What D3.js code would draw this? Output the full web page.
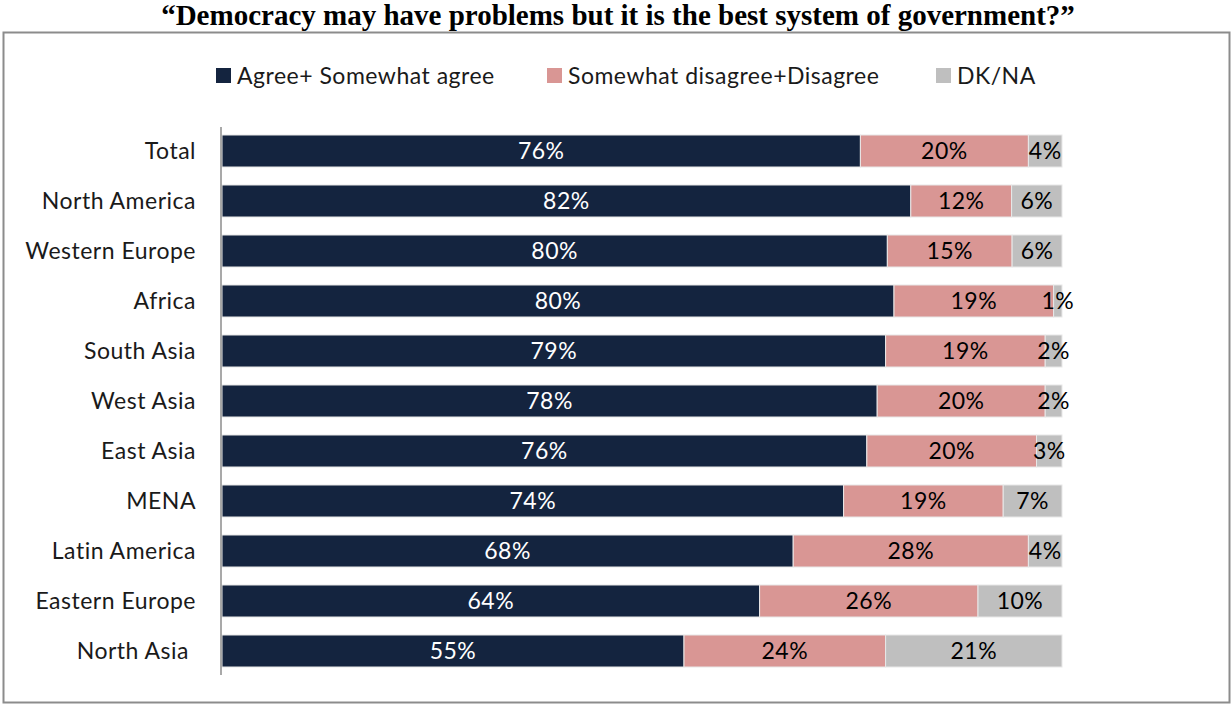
<!DOCTYPE html>
<html>
<head>
<meta charset="utf-8">
<script src="https://cdn.jsdelivr.net/npm/d3@7"></script>
<style>
  body { margin: 0; background: #fff; }
  svg { display: block; }
</style>
</head>
<body>
<div id="chart"></div>
<script>
// data
var regions = ["Total", "North America", "Western Europe", "Africa", "South Asia", "West Asia",
  "East Asia", "MENA", "Latin America", "Eastern Europe", "North Asia"];
var agree = [76, 82, 80, 80, 79, 78, 76, 74, 68, 64, 55];
var disagree = [20, 12, 15, 19, 19, 20, 20, 19, 28, 26, 24];
var dkna = [4, 6, 6, 1, 2, 2, 3, 7, 4, 10, 21];
var seriesNames = ["Agree+ Somewhat agree", "Somewhat disagree+Disagree", "DK/NA"];
var colors = ["#14243f", "#d99694", "#bfbfbf"];
var labelColors = ["#ffffff", "#000000", "#000000"];

var width = 1232, height = 704;
var font = "Lato, 'Open Sans', sans-serif";

var svg = d3.select("#chart").append("svg")
  .attr("width", width)
  .attr("height", height);

// title
svg.append("text")
  .attr("x", 618)
  .attr("y", 25)
  .attr("text-anchor", "middle")
  .style("font-family", "'Liberation Serif', 'Times New Roman', serif")
  .style("font-weight", "bold")
  .style("font-size", "29px")
  .text("\u201cDemocracy may have problems but it is the best system of government?\u201d");

// frame
svg.append("rect")
  .attr("x", 3.5).attr("y", 32.5)
  .attr("width", 1226).attr("height", 670)
  .attr("fill", "none")
  .attr("stroke", "#8c8c8c")
  .attr("stroke-width", 2);

// rows, stacked as share of each row (rows sum to ~100)
var rows = regions.map(function(r, i) {
  return { region: r, s0: agree[i], s1: disagree[i], s2: dkna[i] };
});
var stack = d3.stack().keys(["s0", "s1", "s2"]).offset(d3.stackOffsetExpand);
var stacked = stack(rows);

var x = d3.scaleLinear().domain([0, 1]).range([222, 1062]);
var y = d3.scaleBand().domain(regions).range([126, 676]).paddingInner(0.36).paddingOuter(0.18);

// legend
var legendX = [216, 547, 936];
var legend = svg.selectAll("g.legend")
  .data(seriesNames)
  .enter().append("g")
  .attr("class", "legend")
  .attr("transform", function(d, i) { return "translate(" + legendX[i] + ",68)"; });
legend.append("rect")
  .attr("width", 15).attr("height", 15)
  .attr("fill", function(d, i) { return colors[i]; });
legend.append("text")
  .attr("x", 21).attr("y", 7.5)
  .attr("dy", "0.36em")
  .style("font-family", font)
  .style("font-size", "23px")
  .style("letter-spacing", "0.5px")
  .attr("fill", "#1a1a1a")
  .text(function(d) { return d; });

// bars
var layers = svg.selectAll("g.layer")
  .data(stacked)
  .enter().append("g")
  .attr("class", "layer")
  .attr("fill", function(d, i) { return colors[i]; });

layers.selectAll("rect")
  .data(function(d) { return d; })
  .enter().append("rect")
  .attr("x", function(d) { return x(d[0]); })
  .attr("y", function(d) { return y(d.data.region); })
  .attr("width", function(d) { return x(d[1]) - x(d[0]); })
  .attr("height", y.bandwidth())
  .attr("stroke", "#e8e8e8")
  .attr("stroke-width", 1);

// value labels
var keys = ["s0", "s1", "s2"];
stacked.forEach(function(layer, i) {
  svg.append("g").selectAll("text")
    .data(layer)
    .enter().append("text")
    .attr("x", function(d) { return (x(d[0]) + x(d[1])) / 2; })
    .attr("y", function(d) { return y(d.data.region) + y.bandwidth() / 2; })
    .attr("dy", "0.36em")
    .attr("text-anchor", "middle")
    .style("font-family", font)
    .style("font-size", "23px")
    .style("letter-spacing", "0.5px")
    .attr("fill", labelColors[i])
    .text(function(d) { return d.data[keys[i]] + "%"; });
});

// category labels
svg.append("g").selectAll("text")
  .data(regions)
  .enter().append("text")
  .attr("x", function(d) { return d === "North Asia" ? 189 : 196; })
  .attr("y", function(d) { return y(d) + y.bandwidth() / 2; })
  .attr("dy", "0.36em")
  .attr("text-anchor", "end")
  .style("font-family", font)
  .style("font-size", "23px")
  .style("letter-spacing", "0.5px")
  .attr("fill", "#1a1a1a")
  .text(function(d) { return d; });

// axis line
svg.append("line")
  .attr("x1", 221).attr("x2", 221)
  .attr("y1", 127).attr("y2", 675)
  .attr("stroke", "#8c8c8c")
  .attr("stroke-width", 1.5);
</script>
</body>
</html>
